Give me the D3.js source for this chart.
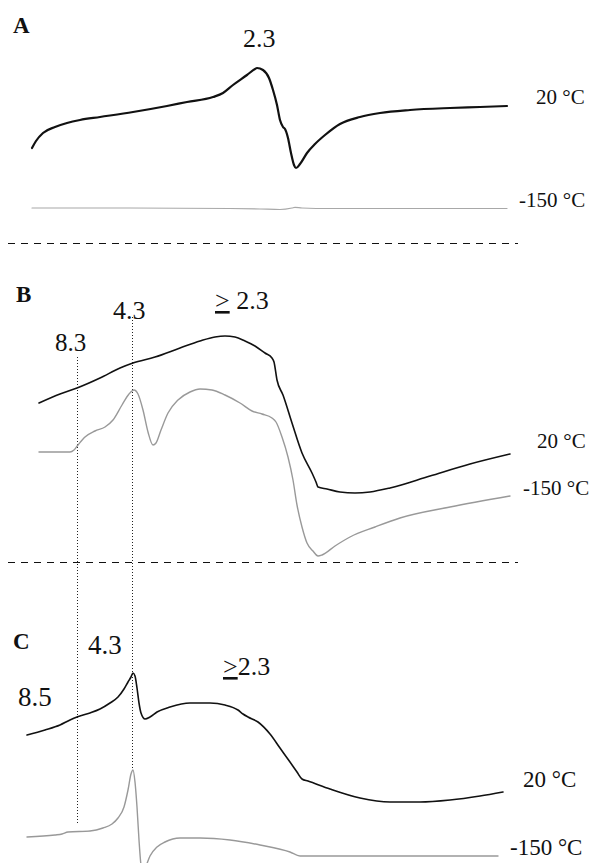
<!DOCTYPE html>
<html>
<head>
<meta charset="utf-8">
<script src="https://cdn.jsdelivr.net/npm/d3@7/dist/d3.min.js"></script>
<style>
  html, body { margin: 0; padding: 0; background: #fff; }
  svg { display: block; }
  text { font-family: "Times New Roman", "Liberation Serif", serif; fill: #111; }
</style>
</head>
<body>
<svg id="chart" width="597" height="863"></svg>
<script>
// ---- DATA (field in a.u., signal in a.u.) ----
const panels = ["A", "B", "C"];
const temperatures = ["20 °C", "-150 °C"];

// Panel A
const aRoomTemp = [[2,2],[6,9],[13,17],[25,23],[37,27],[50,30],[70,33],[103,38],[137,44],[157,48],[183,53],[193,57],
  [203,65],[217,75],[225,81],[227,82],[233,80],[239,72],[243,60],[247,45],[250,30],[253,23],[255,21],[258,12],
  [261,-3],[264,-15],[266,-18],[270,-14],[277,-3],[285,6],[295,15],[310,26],[330,33],[350,37],[380,40],[420,42],[450,43],[477,44]];
const aLowTemp = [[2,-58],[100,-58],[200,-58.5],[230,-59],[250,-59.5],[262,-58],[265,-57.3],[272,-58],[300,-58.5],[477,-58.5]];

// Panel B
const bRoomTemp = [[9,47],[30,56],[47,62],[70,72],[90,82],[103,87],[125,93],[150,102],[170,109],[185,113],[195,114],
  [205,113],[215,109],[225,104],[235,97],[242,92],[244,88],[247,70],[253,55],[262,27],[272,-3],[282,-23],[286,-32],
  [288,-37],[297,-39],[310,-42],[325,-43],[340,-42],[360,-38],[400,-26],[440,-14],[480,-4]];
const bLowTemp = [[9,-2],[40,-2],[44,0],[48,5],[55,13],[65,19],[75,23],[83,30],[92,45],[99,56],[104,60],[108,56],
  [113,40],[118,18],[123,5],[126,7],[131,20],[138,37],[148,50],[160,58],[170,61],[182,60],[195,55],[210,47],[222,39],
  [232,36],[242,32],[246,28],[252,13],[258,-7],[263,-30],[267,-55],[272,-77],[277,-93],[283,-101],[288,-106],
  [292,-105],[305,-96],[320,-87],[345,-77],[370,-68],[420,-57],[480,-46]];

// Panel C
const cRoomTemp = [[-3,15],[15,20],[30,25],[40,30],[47,33],[60,37],[70,41],[80,47],[88,53],[94,61],[98,68],[101,73],
  [103,77],[105,74],[107,62],[109,47],[111,37],[115,31],[120,33],[127,38],[140,43],[160,47],[180,47],[195,45],
  [208,40],[213,36],[218,33],[228,28],[240,16],[250,2],[260,-12],[267,-22],[272,-29],[278,-31],[300,-39],[330,-48],
  [360,-52],[390,-52],[420,-50],[450,-46],[473,-42]];
const cLowTemp = [[-3,-87],[25,-85],[32,-84],[38,-82],[60,-81],[73,-78],[82,-74],[88,-68],[94,-57],[98,-40],[101,-24],
  [103,-20],[105,-32],[107,-57],[109,-90],[111,-115],[113,-122],[116,-116],[120,-106],[127,-97],[135,-92],[150,-88],
  [170,-88],[200,-90],[230,-95],[260,-102],[270,-106],[290,-106],[370,-106],[468,-106]];

// g-value annotations
const gMarkerFields = [47, 102];           // field positions of g = 8.3 and g = 4.3 guides
const gLabelsA = ["2.3"];
const gLabelsB = ["8.3", "4.3", "2.3"];
const gLabelsC = ["8.5", "4.3", "2.3"];

// ---- SCALES ----
const svg = d3.select("#chart");
const x = d3.scaleLinear().domain([0, 480]).range([30, 510]);
const yA = d3.scaleLinear().domain([-100, 100]).range([250, 50]);
const yB = d3.scaleLinear().domain([-100, 100]).range([550, 350]);
const yC = d3.scaleLinear().domain([-100, 100]).range([850, 650]);

function trace(data, y, color, width) {
  const line = d3.line().x(d => x(d[0])).y(d => y(d[1])).curve(d3.curveMonotoneX);
  svg.append("path").datum(data).attr("d", line)
    .attr("fill", "none").attr("stroke", color).attr("stroke-width", width)
    .attr("stroke-linejoin", "round").attr("stroke-linecap", "round");
}

// dotted guide lines
svg.append("line").attr("x1", x(gMarkerFields[0]) + 0.5).attr("x2", x(gMarkerFields[0]) + 0.5)
  .attr("y1", 357).attr("y2", 823).attr("stroke", "#222").attr("stroke-width", 1).attr("stroke-dasharray", "1,2");
svg.append("line").attr("x1", x(gMarkerFields[1]) + 0.5).attr("x2", x(gMarkerFields[1]) + 0.5)
  .attr("y1", 317).attr("y2", 768).attr("stroke", "#222").attr("stroke-width", 1).attr("stroke-dasharray", "1,2");

// traces
trace(aLowTemp, yA, "#a8a8a8", 1.2);
trace(aRoomTemp, yA, "#111", 2.2);
trace(bLowTemp, yB, "#999", 1.4);
trace(bRoomTemp, yB, "#111", 1.6);
trace(cLowTemp, yC, "#999", 1.4);
trace(cRoomTemp, yC, "#111", 1.6);

// dashed separators
[243, 562].forEach(yy => {
  svg.append("line").attr("x1", 8).attr("x2", 518).attr("y1", yy + 0.5).attr("y2", yy + 0.5)
    .attr("stroke", "#111").attr("stroke-width", 1).attr("stroke-dasharray", "7,6");
});

// panel letters
const letterPos = [[13, 33], [16, 302], [13, 649]];
panels.forEach((p, i) => {
  svg.append("text").attr("x", letterPos[i][0]).attr("y", letterPos[i][1])
    .attr("font-size", 23).attr("font-weight", "bold").text(p);
});

// temperature labels
const tempPos = [
  [[536, 104, 21], [519, 207, 21]],
  [[537, 448, 21], [523, 495, 21]],
  [[523, 787, 23], [510, 855, 23]]
];
tempPos.forEach(pp => {
  pp.forEach((pos, j) => {
    svg.append("text").attr("x", pos[0]).attr("y", pos[1]).attr("font-size", pos[2]).text(temperatures[j]);
  });
});

// g labels
function gText(xx, yy, size, str) {
  return svg.append("text").attr("x", xx).attr("y", yy).attr("font-size", size).text(str);
}
gText(243, 47, 26, gLabelsA[0]);
gText(55, 351, 25, gLabelsB[0]);
gText(113, 319, 26, gLabelsB[1]);
const tB = svg.append("text").attr("x", 215).attr("y", 309).attr("font-size", 26);
tB.append("tspan").style("text-decoration", "underline").text(">");
tB.append("tspan").text("\u00a0" + gLabelsB[2]);

gText(18, 706, 27, gLabelsC[0]);
gText(88, 654, 27, gLabelsC[1]);
const tC = svg.append("text").attr("x", 223).attr("y", 675).attr("font-size", 26);
tC.append("tspan").style("text-decoration", "underline").text(">");
tC.append("tspan").text(gLabelsC[2]);
</script>
</body>
</html>
